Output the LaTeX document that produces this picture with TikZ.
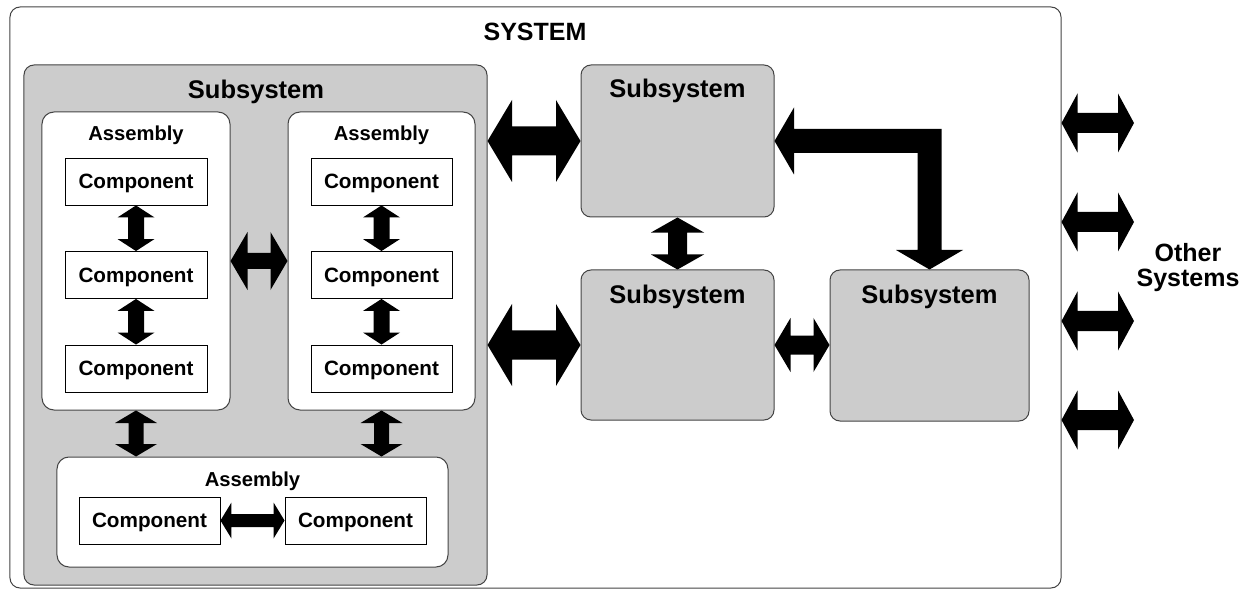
\documentclass[tikz,border=0pt]{standalone}
\usepackage{fontspec}
\setmainfont{Liberation Sans}
\usetikzlibrary{calc}

% block arrows drawn as filled polygons between two points
% horizontal: #1 left tip, #2 right tip, #3 shaft half, #4 head half, #5 head length
\newcommand\blockarrowH[5]{%
  \fill[arrowfill] let \p1=(#1), \p2=(#2) in
    (\x1,\y1) -- ++(#5,#4) -- ++(0,{#3-#4}) -- ({\x2-#5},{\y1+#3}) -- ++(0,{#4-#3})
    -- (\x2,\y1) -- ++({-#5},{-#4}) -- ++(0,{#4-#3}) -- ({\x1+#5},{\y1-#3})
    -- ++(0,{#3-#4}) -- cycle;}
% vertical: #1 upper tip, #2 lower tip
\newcommand\blockarrowV[5]{%
  \fill[arrowfill] let \p1=(#1), \p2=(#2) in
    (\x1,\y1) -- ++(#4,-#5) -- ++({#3-#4},0) -- ({\x1+#3},{\y2+#5}) -- ++({#4-#3},0)
    -- (\x1,\y2) -- ++({-#4},#5) -- ++({#4-#3},0) -- ({\x1-#3},{\y1-#5})
    -- ++({#3-#4},0) -- cycle;}

\definecolor{boxgray}{HTML}{CCCCCC}
\definecolor{edgegray}{HTML}{444444}

\tikzset{
  rbox/.style={draw=edgegray, line width=1bp, rounded corners=10bp, inner sep=0pt},
  sysbox/.style={rbox, fill=white},
  subbox/.style={rbox, fill=boxgray},
  asmbox/.style={rbox, fill=white, rounded corners=12bp},
  compbox/.style={draw=black, line width=0.9bp, fill=white, inner sep=0pt,
    minimum width=142bp, minimum height=47bp, text height=14.8bp, text depth=0pt,
    font=\fontsize{20.7bp}{24bp}\selectfont\bfseries},
  biglbl/.style={anchor=base, inner sep=0pt, font=\fontsize{25.5bp}{30bp}\selectfont\bfseries},
  asmlbl/.style={anchor=base, inner sep=0pt, font=\fontsize{20.2bp}{24bp}\selectfont\bfseries},
  arrowfill/.style={fill=black},
}

\begin{document}
\begin{tikzpicture}[x=1bp, y=-1bp]
\useasboundingbox (0,0) rectangle (1247,591);

% system frame
\node[sysbox, minimum width=1051bp, minimum height=581bp] (sys) at (535.5,297.5) {};
\node[biglbl, font=\fontsize{25bp}{30bp}\selectfont\bfseries] (syslbl) at (535,41) {SYSTEM};

% large subsystem with its assemblies
\node[subbox, minimum width=463bp, minimum height=520bp] (s0) at (255.5,325) {};
\node[biglbl] (s0lbl) at (256,99) {Subsystem};

\node[asmbox, minimum width=188bp, minimum height=298bp] (a1) at (136,261) {};
\node[asmbox, minimum width=187bp, minimum height=298bp] (a2) at (381.5,261) {};
\node[asmbox, minimum width=391bp, minimum height=110bp] (a3) at (252.5,512) {};
\node[asmlbl] (a1lbl) at (136,141) {Assembly};
\node[asmlbl] (a2lbl) at (381.5,141) {Assembly};
\node[asmlbl] (a3lbl) at (252.5,486) {Assembly};

\node[compbox] (c1) at (136,181.5) {Component};
\node[compbox] (c2) at (136,275) {Component};
\node[compbox] (c3) at (136,368.5) {Component};
\node[compbox, minimum width=141bp] (c4) at (381.5,181.5) {Component};
\node[compbox, minimum width=141bp] (c5) at (381.5,275) {Component};
\node[compbox, minimum width=141bp] (c6) at (381.5,368.5) {Component};
\node[compbox, minimum width=141bp] (c7) at (149.5,520.5) {Component};
\node[compbox, minimum width=141bp] (c8) at (355.5,520.5) {Component};

% the other subsystems
\node[subbox, minimum width=193bp, minimum height=152bp] (t) at (677.5,141) {};
\node[subbox, minimum width=193bp, minimum height=150bp] (m) at (677.5,345) {};
\node[subbox, minimum width=199bp, minimum height=151bp] (r) at (929.5,345.5) {};
\node[biglbl] (tlbl) at (677.5,98) {Subsystem};
\node[biglbl] (mlbl) at (677.5,304) {Subsystem};
\node[biglbl] (rlbl) at (929.5,304) {Subsystem};

\node[align=center, inner sep=0pt, font=\fontsize{25bp}{25bp}\selectfont\bfseries]
  (other) at (1188,268) {Other\\Systems};

% connectors inside the assemblies
\blockarrowV{c1.south}{c2.north}{8bp}{18.5bp}{12bp}
\blockarrowV{c2.south}{c3.north}{8bp}{18.5bp}{12bp}
\blockarrowV{c4.south}{c5.north}{8bp}{18.5bp}{12bp}
\blockarrowV{c5.south}{c6.north}{8bp}{18.5bp}{12bp}
\blockarrowH{c7.east}{c8.west}{6.5bp}{18bp}{11bp}

% connectors between assemblies
\blockarrowH{a1.east}{a2.west}{8bp}{29bp}{17bp}
\blockarrowV{a1.south}{a1.south |- a3.north}{7.5bp}{21bp}{12.5bp}
\blockarrowV{a2.south}{a2.south |- a3.north}{7.5bp}{21bp}{12.5bp}

% connectors between subsystems
\blockarrowH{s0.east |- t.west}{t.west}{14.5bp}{41bp}{24.5bp}
\blockarrowH{s0.east |- m.west}{m.west}{14.5bp}{41bp}{24.5bp}
\blockarrowV{t.south}{m.north}{9.5bp}{26.5bp}{15bp}
\blockarrowH{m.east}{r.west}{9.5bp}{27bp}{16bp}

% bent connector from the top subsystem round to the right one
\fill[arrowfill] let \p1=(t.east), \p2=(r.north) in
  (\x1,\y1) -- ++(19.5bp,33.5bp) -- ++(0,-21.5bp) -- ({\x2+12bp},{\y1+12bp})
  -- ({\x2+12bp},{\y2+19.5bp}) -- ++(21.5bp,0) -- (\x2,\y2) -- ++(-33.5bp,19.5bp)
  -- ++(21.5bp,0) -- ({\x2-12bp},{\y1-12bp}) -- ({\x1+19.5bp},{\y1-12bp})
  -- ++(0,-21.5bp) -- cycle;

% links to other systems
\coordinate (o1) at (1134,123);
\coordinate (o2) at (1134,222);
\coordinate (o3) at (1134,321);
\coordinate (o4) at (1134,420);
\foreach \k in {1,2,3,4}{
  \blockarrowH{sys.east |- o\k}{o\k}{10bp}{29.5bp}{16bp}
}
\end{tikzpicture}
\end{document}
